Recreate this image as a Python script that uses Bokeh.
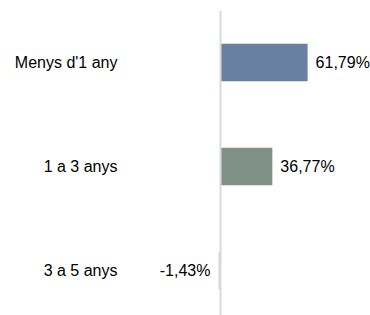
from bokeh.plotting import figure
from bokeh.models import ColumnDataSource, Range1d, FixedTicker, Span
from bokeh.core.properties import value
from bokeh.embed import file_html
from bokeh.resources import INLINE

categories = ["Menys d'1 any", "1 a 3 anys", "3 a 5 anys"]
values = [61.79, 36.77, -1.43]
colors = ["#6a80a3", "#7f9189", "#d4d4d4"]

n = len(categories)
ypos = [n - i - 0.5 for i in range(n)]
labels = [f"{v:.2f}".replace(".", ",") + "%" for v in values]
offsets = [8 if v >= 0 else -8 for v in values]
aligns = ["left" if v >= 0 else "right" for v in values]

src = ColumnDataSource(dict(y=ypos, v=values, c=colors, lab=labels,
                            off=offsets, al=aligns))

p = figure(width=370, height=315, output_backend="svg", toolbar_location=None,
           x_range=Range1d(-68.1, 106.4), y_range=Range1d(0.067, 3.0),
           min_border_left=124, min_border_right=0, min_border_top=10,
           min_border_bottom=0)

p.hbar(y="y", left=0, right="v", height=0.36, fill_color="c", line_color=None,
       source=src)
p.add_layout(Span(location=0, dimension="height", line_color="#d9d9d9",
                  line_width=2))
p.text(x="v", y="y", text="lab", x_offset="off", text_align="al",
       text_baseline="middle", text_font=value("Liberation Sans"),
       text_font_size="16px", text_color="#000000", source=src)

p.xaxis.visible = False
p.yaxis.ticker = FixedTicker(ticks=ypos)
p.yaxis.major_label_overrides = {y: c for y, c in zip(ypos, categories)}
p.yaxis.axis_line_color = None
p.yaxis.major_tick_line_color = None
p.yaxis.minor_tick_line_color = None
p.yaxis.major_tick_out = 0
p.yaxis.major_label_standoff = 7
p.yaxis.major_label_text_font = "Liberation Sans"
p.yaxis.major_label_text_font_size = "16px"
p.yaxis.major_label_text_color = "#000000"
p.xgrid.visible = False
p.ygrid.visible = False
p.outline_line_color = None

open("out.html", "w").write(file_html(p, INLINE))
